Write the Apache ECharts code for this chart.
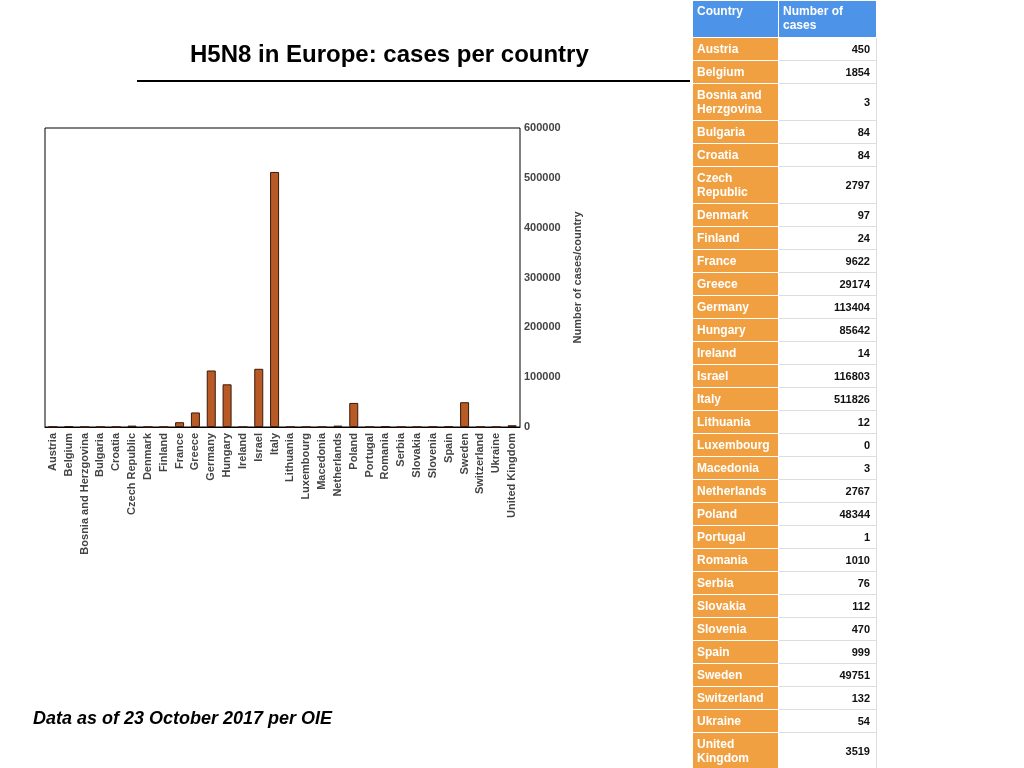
<!DOCTYPE html>
<html lang="en">
<head>
  <meta charset="UTF-8">
  <title>H5N8 in Europe</title>
  <script src="https://cdn.jsdelivr.net/npm/echarts@6/dist/echarts.min.js"></script>
  <style>
    * { margin: 0; padding: 0; }
    body { width: 1024px; height: 768px; background: #fff; position: relative; overflow: hidden;
      font-family: "Liberation Sans", Arial, sans-serif; }
    #chart { position: absolute; left: 0; top: 0; width: 1024px; height: 768px; }
    .tbl { position: absolute; left: 692px; top: 0; width: 185px; border-collapse: collapse;
      font-size: 12px; font-weight: bold; }
    .tbl td { border: 1px solid #ddd; padding: 0 4px; line-height: 14px; box-sizing: border-box; }
    .tbl td.c { background: #f0a040; color: #fff; width: 86px; border-color: #fff; }
    .tbl td.v { text-align: right; color: #111; padding-right: 6px; font-size: 11px; }
    .tbl tr.h td { background: #4d94e8; color: #fff; height: 37px; vertical-align: top; padding-top: 3px; border-color: #fff; }
    .tbl tr.s td { height: 23px; }
    .tbl tr.d td { height: 37px; }
  </style>
</head>
<body>
  <div id="chart"></div>
  <table class="tbl" id="tbl"></table>
  <script>
    var countries = ['Austria', 'Belgium', 'Bosnia and Herzgovina', 'Bulgaria', 'Croatia', 'Czech Republic',
      'Denmark', 'Finland', 'France', 'Greece', 'Germany', 'Hungary', 'Ireland', 'Israel', 'Italy',
      'Lithuania', 'Luxembourg', 'Macedonia', 'Netherlands', 'Poland', 'Portugal', 'Romania', 'Serbia',
      'Slovakia', 'Slovenia', 'Spain', 'Sweden', 'Switzerland', 'Ukraine', 'United Kingdom']
    var cases = [450, 1854, 3, 84, 84, 2797, 97, 24, 9622, 29174, 113404, 85642, 14, 116803, 511826,
      12, 0, 3, 2767, 48344, 1, 1010, 76, 112, 470, 999, 49751, 132, 54, 3519]
    // table labels use line breaks where the slide wraps
    var tableNames = countries.slice()
    tableNames[2] = 'Bosnia and<br>Herzgovina'
    tableNames[5] = 'Czech<br>Republic'
    tableNames[29] = 'United<br>Kingdom'

    var html = '<tr class="h"><td class="c" style="background:#4d94e8">Country</td><td style="color:#fff">Number of<br>cases</td></tr>'
    for (var i = 0; i < countries.length; i++) {
      var cls = tableNames[i].indexOf('<br>') >= 0 ? 'd' : 's'
      html += '<tr class="' + cls + '"><td class="c">' + tableNames[i] + '</td><td class="v">' + cases[i] + '</td></tr>'
    }
    document.getElementById('tbl').innerHTML = html

    var myChart = echarts.init(document.getElementById('chart'))
    var option = {
      animation: false,
      textStyle: { fontFamily: 'Liberation Sans' },
      graphic: [
        { type: 'text', left: 190, top: 43, style: { text: 'H5N8 in Europe: cases per country', font: 'bold 24px Liberation Sans', fill: '#000' } },
        { type: 'line', shape: { x1: 137, y1: 81, x2: 690, y2: 81 }, style: { stroke: '#000', lineWidth: 2 } },
        { type: 'text', left: 33, top: 710, style: { text: 'Data as of 23 October 2017 per OIE', font: 'italic bold 18px Liberation Sans', fill: '#000' } }
      ],
      grid: { left: 45, right: 504, top: 128, bottom: 341, show: true, borderColor: '#000', borderWidth: 1 },
      xAxis: {
        type: 'category',
        data: countries,
        axisTick: { show: false },
        axisLine: { lineStyle: { color: '#000' } },
        axisLabel: { rotate: 90, interval: 0, color: '#444', fontWeight: 'bold', fontSize: 11, margin: 6 }
      },
      yAxis: {
        type: 'value',
        position: 'right',
        min: 0, max: 600000, interval: 100000,
        name: 'Number of cases/country',
        nameLocation: 'middle',
        nameRotate: 90,
        nameGap: 52,
        nameTextStyle: { color: '#444', fontWeight: 'bold', fontSize: 11 },
        axisLine: { show: false },
        axisTick: { show: false },
        splitLine: { show: false },
        axisLabel: { color: '#444', fontWeight: 'bold', fontSize: 11, margin: 4, formatter: function (v) { return String(v) } }
      },
      series: [{
        type: 'bar',
        data: cases,
        barWidth: 9,
        itemStyle: { color: '#b85a25', borderColor: '#3a1a08', borderWidth: 1 }
      }]
    }
    myChart.setOption(option)
  </script>
</body>
</html>
